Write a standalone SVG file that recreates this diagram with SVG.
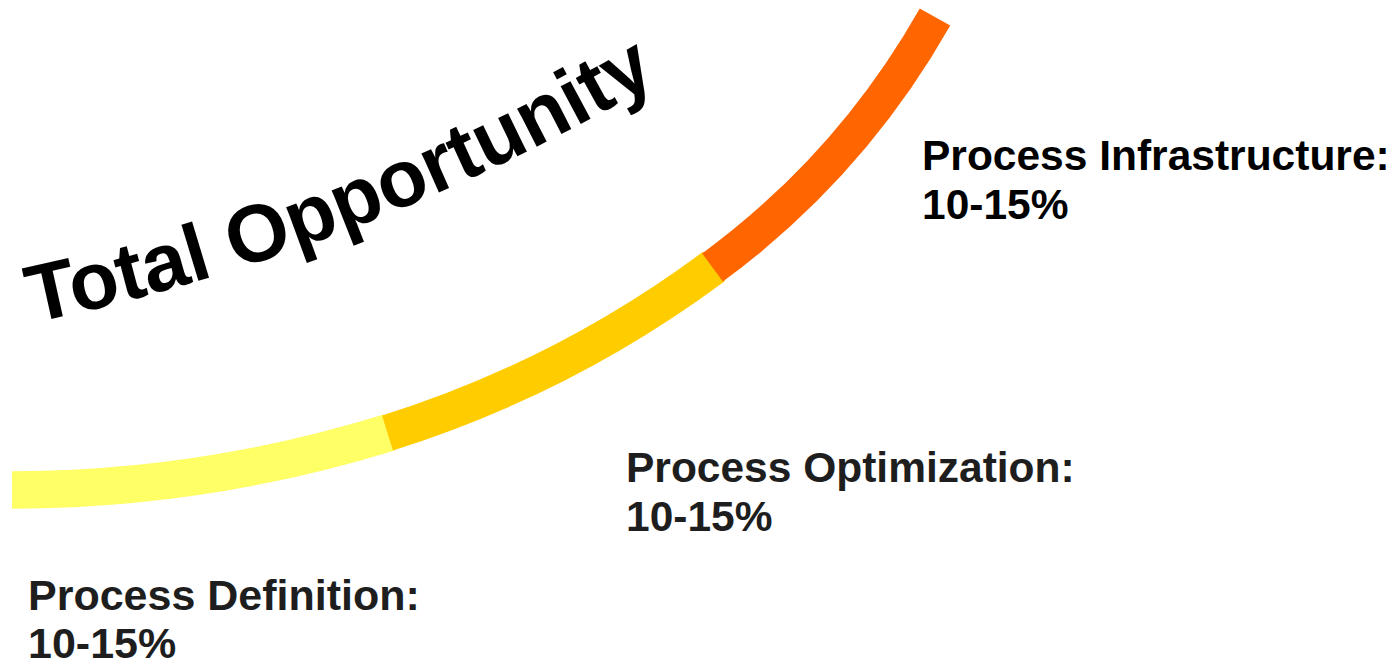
<svg xmlns="http://www.w3.org/2000/svg" xmlns:xlink="http://www.w3.org/1999/xlink" width="1396" height="664" viewBox="0 0 1396 664">
  <style>
    .band { fill: none; stroke-linecap: butt; }
    .lbl { font-family: "Liberation Sans", Arial, sans-serif; font-weight: bold; font-size: 42.5px; }
    .title { font-family: "Liberation Sans", Arial, sans-serif; font-weight: bold; font-size: 81px; fill: #000; }
  </style>
  <defs>
    <path id="titlePath" d="M 33 323 A 2100 2100 0 0 0 770.7 10"/>
  </defs>
  <rect width="1396" height="664" fill="#fff"/>
  <g id="connectors">
    <path id="seg-definition" class="band" stroke="#FFFF66" stroke-width="37.5" d="M 12 490 A 1284 1284 0 0 0 387.5 433 l 1.9 -0.6"/>
    <path id="seg-optimization" class="band" stroke="#FFCC00" stroke-width="36.5" d="M 387.5 433 A 1100 1100 0 0 0 712.5 267.5 l 1.6 -1.2"/>
    <path id="seg-infrastructure" class="band" stroke="#FF6600" stroke-width="35" d="M 712.5 267.5 A 800 800 0 0 0 935 17"/>
  </g>
  <g id="title">
    <text class="title"><textPath xlink:href="#titlePath" href="#titlePath">Total Opportunity</textPath></text>
  </g>
  <g id="node-infrastructure">
    <text class="lbl" fill="#000" x="922" y="170">Process Infrastructure:</text>
    <text class="lbl" fill="#000" x="922" y="219">10-15%</text>
  </g>
  <g id="node-optimization">
    <text class="lbl" fill="#1e1e1e" x="626" y="482">Process Optimization:</text>
    <text class="lbl" fill="#1e1e1e" x="626" y="531">10-15%</text>
  </g>
  <g id="node-definition">
    <text class="lbl" fill="#1e1e1e" x="28" y="610" style="font-size:43px">Process Definition:</text>
    <text class="lbl" fill="#1e1e1e" x="28" y="658" style="font-size:43px">10-15%</text>
  </g>
</svg>
